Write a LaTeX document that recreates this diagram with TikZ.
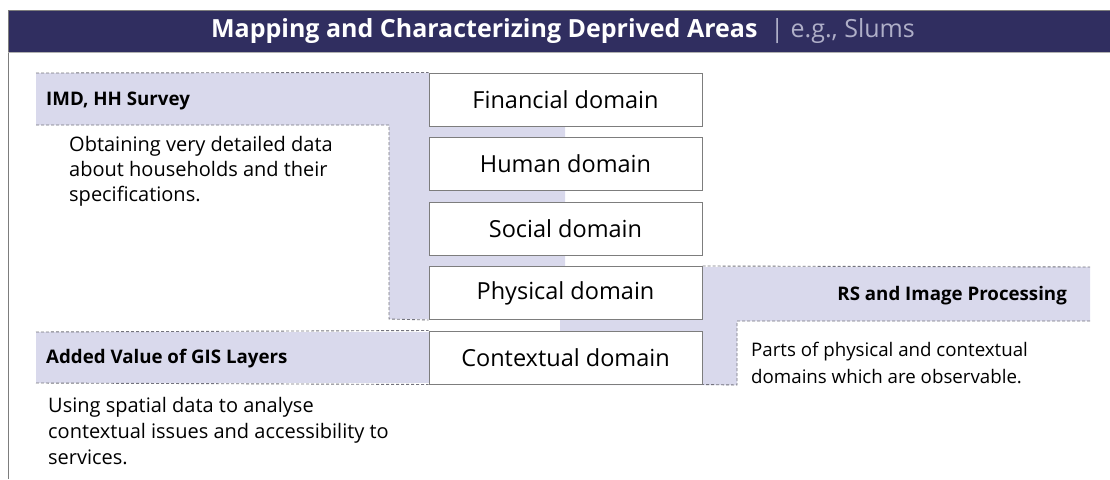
\documentclass[tikz,border=0pt]{standalone}
\usepackage{fontspec}
\setmainfont{Open Sans}
\definecolor{navy}{RGB}{48,46,96}
\definecolor{lav}{RGB}{217,217,236}
\definecolor{subt}{RGB}{175,175,200}
\definecolor{dashc}{RGB}{115,115,125}
\definecolor{boxc}{RGB}{125,125,125}
\begin{document}
\begin{tikzpicture}[x=1pt,y=-1pt,
  dombox/.style={draw=boxc,line width=1pt,fill=white,minimum width=273pt,minimum height=53pt,inner sep=0pt,font=\fontsize{23.5}{28}\selectfont},
  dashline/.style={draw=dashc,line width=0.9pt,dash pattern=on 3pt off 2pt},
  lbl/.style={inner sep=0pt,font=\fontsize{18.7}{22}\selectfont\bfseries},
  body/.style={inner sep=0pt,align=left,font=\fontsize{20}{25}\selectfont}]
\useasboundingbox (0,0) rectangle (1110,479);
% title bar
\fill[navy] (8,10) rectangle (1110,52);
\draw[boxc,line width=1pt] (1110,10) -- (8,10) -- (8,479);
\draw[boxc!60,line width=0.6pt] (8,52) -- (1110,52);
\node[inner sep=0pt,font=\fontsize{25}{30}\selectfont] (title) at (563,31)
  {\textcolor{white}{\bfseries Mapping and Characterizing Deprived Areas}\ \ \textcolor{subt}{| e.g., Slums}};
% lavender regions
\fill[lav] (36,73) -- (565,73) -- (565,319) -- (389,319) -- (389,125) -- (36,125) -- cycle;
\fill[lav] (560,267) -- (1090,267) -- (1090,321) -- (737,321) -- (737,385) -- (560,385) -- cycle;
\fill[lav] (36,332) rectangle (430,383);
% domain boxes
\node[dombox] (fin) at (565.5,99.5) {Financial domain};
\node[dombox] (hum) at (565.5,163.5) {Human domain};
\node[dombox] (soc) at (565.5,228.5) {Social domain};
\node[dombox] (phy) at (565.5,293) {Physical domain};
\node[dombox] (con) at (565.5,357.5) {Contextual domain};
% dashed outlines
\coordinate (imdtl) at (36,73);
\coordinate (imdbl) at (36,125);
\coordinate (imdc) at (389,125);
\coordinate (imdd) at (389,319);
\coordinate (gistl) at (36,332);
\coordinate (gisbl) at (36,383);
\coordinate (rstr) at (1090,267);
\coordinate (rsbr) at (1090,321);
\coordinate (rsc) at (737,321);
\coordinate (rsd) at (737,385);
\draw[dashline] (imdtl) -- (fin.north west);
\draw[dashline] (imdbl) -- (imdc) -- (imdd) -- (phy.south west);
\draw[dashline] (gistl) -- (con.north west);
\draw[dashline] (gisbl) -- (con.south west);
\draw[dashline] (phy.north east) -- (rstr);
\draw[dashline] (rsbr) -- (rsc) -- (rsd) -- (con.south east);
% labels (multi-line nodes: base anchor = last line's baseline)
\node[lbl,anchor=base west] (imd) at (46,105) {IMD, HH Survey};
\node[body,anchor=base west] (imdtxt) at (69,201) {Obtaining very detailed data\\about households and their\\specifications.};
\node[lbl,anchor=base east] (rs) at (1067,300) {RS and Image Processing};
\node[body,anchor=base west,font=\fontsize{18.7}{27}\selectfont] (rstxt) at (751,383) {Parts of physical and contextual\\domains which are observable.};
\node[lbl,anchor=base west] (gis) at (46,363) {Added Value of GIS Layers};
\node[body,anchor=base west,font=\fontsize{20}{26}\selectfont] (gistxt) at (48,464) {Using spatial data to analyse\\contextual issues and accessibility to\\services.};
\end{tikzpicture}
\end{document}
